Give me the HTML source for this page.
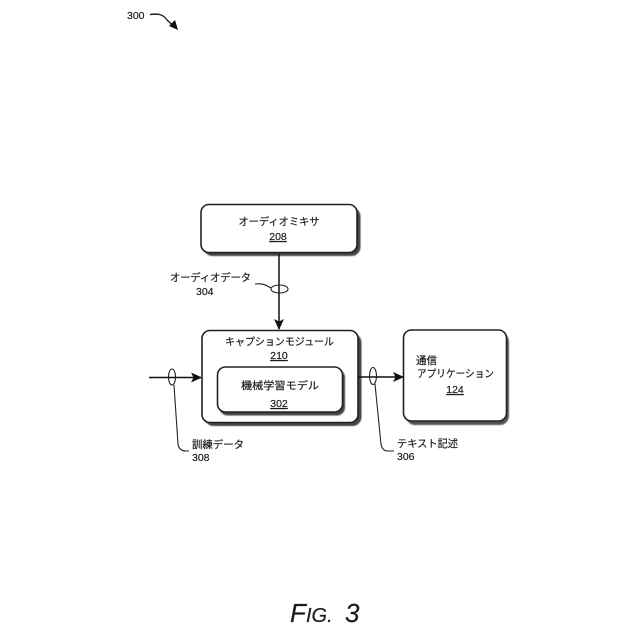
<!DOCTYPE html>
<html><head><meta charset="utf-8">
<style>
html,body{margin:0;padding:0;background:#fff}
svg{display:block}
text{font-family:"Liberation Sans","Noto Sans CJK JP",sans-serif;fill:#1c1c1c;stroke:#1c1c1c;stroke-width:.18px}
</style></head>
<body>
<svg width="640" height="640" viewBox="0 0 640 640" xmlns="http://www.w3.org/2000/svg">
<defs>
<marker id="a" markerWidth="12" markerHeight="12" refX="10" refY="5" orient="auto" markerUnits="userSpaceOnUse"><path d="M0 0L11 5L0 10L2.500 5Z" fill="#111"/></marker>
<filter id="s" x="-10%" y="-10%" width="120%" height="120%"><feGaussianBlur stdDeviation=".6"/></filter>
</defs>
<text x="127" y="19" font-size="10.500">300</text>
<path d="M150 14.500C158 13.500 163 14 167 20L176 28" fill="none" stroke="#222" stroke-width="1.400"/>
<path d="M178 30L169 26L175 20Z" fill="#111"/>

<!-- shadows -->
<rect x="203.500" y="207.500" width="157" height="48.500" rx="9" fill="#444" filter="url(#s)"/>
<rect x="204.500" y="333.500" width="157" height="92.500" rx="9" fill="#444" filter="url(#s)"/>
<rect x="406" y="332.500" width="103" height="92.500" rx="9" fill="#555" filter="url(#s)"/>

<!-- boxes -->
<rect x="201" y="204.500" width="156" height="48" rx="8" fill="#fff" stroke="#222" stroke-width="1.600"/>
<rect x="202" y="330.500" width="156" height="92" rx="8" fill="#fff" stroke="#222" stroke-width="1.600"/>
<rect x="403.500" y="330" width="103" height="91" rx="8" fill="#fff" stroke="#222" stroke-width="1.600"/>
<rect x="219.500" y="369.500" width="125.500" height="46" rx="8" fill="#444" filter="url(#s)"/>
<rect x="217.500" y="367" width="125" height="45" rx="8" fill="#fff" stroke="#222" stroke-width="1.600"/>

<!-- connectors -->
<line x1="279" y1="254" x2="279" y2="329" stroke="#111" stroke-width="1.500" marker-end="url(#a)"/>
<line x1="149" y1="377.500" x2="201" y2="377.500" stroke="#111" stroke-width="1.500" marker-end="url(#a)"/>
<line x1="358" y1="377" x2="403" y2="377" stroke="#111" stroke-width="1.500" marker-end="url(#a)"/>

<!-- loops -->
<ellipse cx="279.500" cy="289" rx="8.500" ry="4" fill="none" stroke="#222" stroke-width="1.100"/>
<path d="M255 284C264 283 267 286 271 288" fill="none" stroke="#222" stroke-width="1.100"/>
<ellipse cx="172" cy="377" rx="3.500" ry="8" fill="none" stroke="#222" stroke-width="1.100"/>
<path d="M174 385L178 444Q179 451 186 451L189 451" fill="none" stroke="#222" stroke-width="1.100"/>
<ellipse cx="373" cy="376" rx="3.500" ry="8.500" fill="none" stroke="#222" stroke-width="1.100"/>
<path d="M375 384L381 444Q382 451 388 451L394 451" fill="none" stroke="#222" stroke-width="1.100"/>

<!-- labels -->
<text x="279" y="225" font-size="10.500" text-anchor="middle" textLength="81" lengthAdjust="spacingAndGlyphs">オーディオミキサ</text>
<text x="278" y="240" font-size="10.500" text-anchor="middle" text-decoration="underline">208</text>

<text x="170" y="281" font-size="10.500" textLength="81" lengthAdjust="spacingAndGlyphs">オーディオデータ</text>
<text x="196" y="295" font-size="10.500">304</text>

<text x="225" y="345" font-size="10.500" textLength="109" lengthAdjust="spacingAndGlyphs">キャプションモジュール</text>
<text x="279" y="359" font-size="10.500" text-anchor="middle" text-decoration="underline">210</text>

<text x="241" y="389" font-size="10.500" textLength="78" lengthAdjust="spacingAndGlyphs">機械学習モデル</text>
<text x="279" y="407" font-size="10.500" text-anchor="middle" text-decoration="underline">302</text>

<text x="416" y="364" font-size="10.500">通信</text>
<text x="417" y="377" font-size="10.500" textLength="77" lengthAdjust="spacingAndGlyphs">アプリケーション</text>
<text x="455" y="393" font-size="10.500" text-anchor="middle" text-decoration="underline">124</text>

<text x="192" y="448" font-size="10.500" textLength="52" lengthAdjust="spacingAndGlyphs">訓練データ</text>
<text x="192" y="461" font-size="10.500">308</text>

<text x="397" y="447" font-size="10.500" textLength="61" lengthAdjust="spacingAndGlyphs">テキスト記述</text>
<text x="397" y="460" font-size="10.500">306</text>

<!-- figure caption -->
<text x="290" y="622" font-size="26" font-style="italic" fill="#111">F</text>
<text x="306" y="622" font-size="20" font-style="italic" fill="#111">IG.</text>
<text x="345" y="622" font-size="26" font-style="italic" fill="#111">3</text>
</svg>
</body></html>
